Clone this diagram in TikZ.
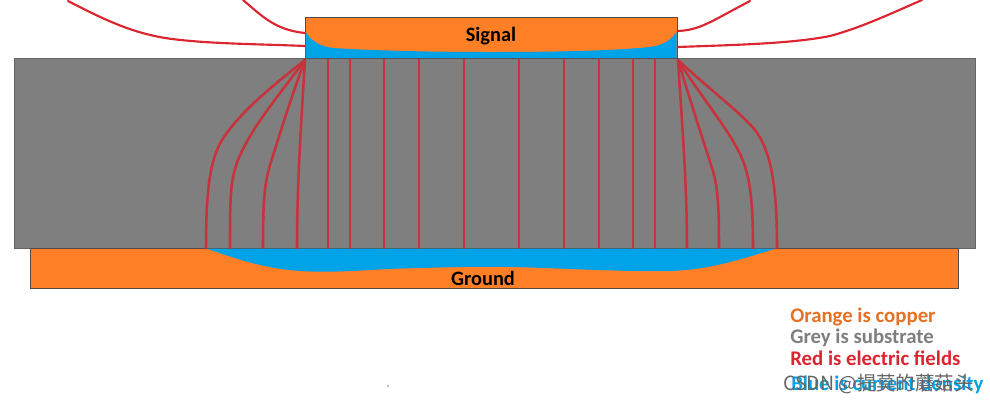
\documentclass[tikz,border=0pt]{standalone}
\usepackage{fontspec}
\setmainfont{Carlito}
\newfontfamily\cjkwm{Noto Sans CJK SC}
\definecolor{copper}{HTML}{FF7F27}
\definecolor{subst}{HTML}{7F7F7F}
\definecolor{cur}{HTML}{00A2E8}
\definecolor{field}{HTML}{DC2530}
\definecolor{fieldin}{HTML}{C8323C}
\definecolor{edge}{HTML}{5A4A45}
\tikzset{
  metal/.style={fill=copper,draw=edge,line width=0.6pt},
  sub/.style={fill=subst,draw=subst!80!black,line width=0.7pt},
  current/.style={fill=cur,draw=none},
  efield/.style={draw=field,line width=1.6pt,line cap=round,line join=round},
  inner/.style={draw=fieldin,line width=1.9pt,line cap=round,line join=round},
  label/.style={font=\fontsize{15.3}{17}\selectfont\bfseries,text=black,inner sep=0},
  legend/.style={font=\fontsize{15.6}{17}\selectfont\bfseries,anchor=base west,inner sep=0},
}
\begin{document}
\begin{tikzpicture}[x=0.75pt,y=-0.75pt]
\useasboundingbox (0,0) rectangle (990,404);
\fill[white] (0,0) rectangle (990,404);
% substrate and conductors
\path[sub] (14,58) rectangle (975,248);
\path[metal] (30,248) rectangle (958,288);
\path[metal] (305,17) rectangle (677,58);
% current density
\path[current] (305.5,32) .. controls (311,40) and (318,46) .. (333,48)
  .. controls (380,51) and (440,52) .. (491,52)
  .. controls (550,52) and (610,51) .. (650,47)
  .. controls (664,45) and (671,40) .. (676.5,32) -- (676.5,58) -- (305.5,58) -- cycle;
\path[current] (206,248.5) .. controls (235,258) and (265,270) .. (310,271.5)
  .. controls (350,272.5) and (370,269) .. (420,268)
  .. controls (460,267) and (480,266.5) .. (510,267)
  .. controls (560,268) and (620,272) .. (670,271)
  .. controls (710,270) and (745,258) .. (776,248.5) -- cycle;
% outer fields
\draw[efield] (68,1) .. controls (105,20) and (130,32) .. (165,38) .. controls (205,44) and (260,44) .. (305,46);
\draw[efield] (243,0) .. controls (262,16) and (275,30) .. (305,33);
\draw[efield] (678,31) .. controls (700,30) and (710,22) .. (750,1);
\draw[efield] (678,47) .. controls (730,45) and (790,44) .. (830,36) .. controls (860,28) and (890,14) .. (922,0);
% vertical fields
\foreach \x in {328,350,384,419,464,519,564,599,633,655}
  \draw[inner] (\x,60) -- (\x,248);
% fringe fields, left
\draw[inner] (305,60) .. controls (270,88) and (240,112) .. (222,140) .. controls (210,160) and (206,190) .. (206,248);
\draw[inner] (305,60) .. controls (275,100) and (250,130) .. (238,160) .. controls (230,180) and (230,200) .. (230,248);
\draw[inner] (305,60) .. controls (290,100) and (278,140) .. (270,165) .. controls (264,185) and (263,205) .. (263,248);
\draw[inner] (305,60) .. controls (302,110) and (297,180) .. (297,248);
% fringe fields, right
\draw[inner] (678,60) .. controls (710,90) and (740,112) .. (755,130) .. controls (772,152) and (777,190) .. (777,248);
\draw[inner] (678,60) .. controls (700,95) and (725,125) .. (738,150) .. controls (750,172) and (753,200) .. (753,248);
\draw[inner] (678,60) .. controls (690,100) and (703,140) .. (711,165) .. controls (718,185) and (719,205) .. (719,248);
\draw[inner] (678,60) .. controls (681,110) and (687,180) .. (687,248);
% labels
\node[label] (signal) at (491,36) {Signal};
\node[label] (ground) at (483,278) {Ground};
\node[legend,text=copper!90!black] (l1) at (790,322) {Orange is copper};
\node[legend,text=subst] (l2) at (790,343) {Grey is substrate};
\node[legend,text=field] (l3) at (790,365) {Red is electric fields};
\node[legend,text=cur] (l4) at (791,390) {Blue is current density};
\node[anchor=base west,inner sep=0,text=black!60,font=\fontsize{14.6}{16}\selectfont\cjkwm] (wm) at (783,390) {CSDN @提莫的蘑菇头};
\fill[black!35] (388,386) circle (1.2);
\end{tikzpicture}
\end{document}
